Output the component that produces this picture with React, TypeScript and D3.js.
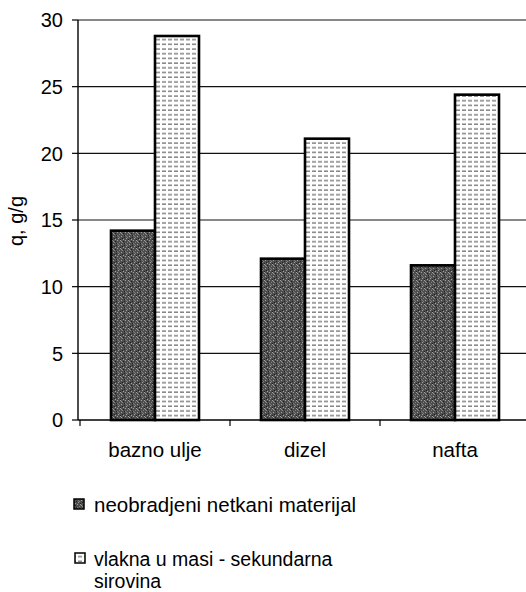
import React from "react";
import * as d3 from "d3";

const categories = ["bazno ulje", "dizel", "nafta"];
const seriesNames = ["neobradjeni netkani materijal", "vlakna u masi - sekundarna sirovina"];
const untreated = [14.2, 12.1, 11.6];
const fibers = [28.8, 21.1, 24.4];
const yTicks = [0, 5, 10, 15, 20, 25, 30];

const W = 526;
const H = 592;
const FONT = "'Liberation Sans', Arial, sans-serif";

// fixed speckle layout for the dark pattern (style only)
const speckles: [number, number][] = [
  [0, 0], [3, 1], [5, 3], [1, 4], [4, 5], [2, 2], [6, 6], [0, 7], [7, 2], [5, 0], [2, 6], [7, 5],
  [1, 1], [4, 3], [6, 4], [3, 7],
];

export default function App() {
  const x0 = d3.scaleBand<string>().domain(categories).range([80, 530]).padding(0);
  const x1 = d3.scaleBand<string>().domain(["a", "b"]).range([31, 119]).padding(0);
  const y = d3.scaleLinear().domain([0, 30]).range([420, 20]);
  const series = [
    { key: "a", values: untreated, fill: "url(#darkPat)" },
    { key: "b", values: fibers, fill: "url(#lightPat)" },
  ];
  const xAxisTicks = [80, 230, 380, 530];

  return (
    <svg
      width={W}
      height={H}
      style={{ position: "absolute", left: 0, top: 0, background: "#fff" }}
      fontFamily={FONT}
    >
      <defs>
        <pattern id="darkPat" width={8} height={8} patternUnits="userSpaceOnUse">
          <rect width={8} height={8} fill="#4e4e4e" />
          {speckles.map(([sx, sy], i) => (
            <rect key={i} x={sx} y={sy} width={1} height={1} fill={i % 3 === 0 ? "#a0a0a0" : i % 3 === 1 ? "#222" : "#808080"} />
          ))}
        </pattern>
        <pattern id="lightPat" width={6} height={4.7} patternUnits="userSpaceOnUse">
          <rect width={6} height={4.7} fill="#fff" />
          <line x1={0} x2={6} y1={2} y2={2} stroke="#444" strokeWidth={1} strokeDasharray="4 2" />
        </pattern>
      </defs>

      {/* gridlines */}
      {yTicks.filter((t) => t > 0).map((t) => (
        <line key={t} x1={78} x2={W} y1={y(t)} y2={y(t)} stroke="#111" strokeWidth={1.2} />
      ))}

      {/* bars */}
      {series.map((s) =>
        categories.map((c, i) => (
          <rect
            key={s.key + c}
            x={(x0(c) as number) + (x1(s.key) as number)}
            y={y(s.values[i])}
            width={x1.bandwidth()}
            height={y(0) - y(s.values[i])}
            fill={s.fill}
            stroke="#000"
            strokeWidth={2.6}
          />
        ))
      )}

      {/* y axis */}
      <line x1={78} x2={78} y1={y(30)} y2={y(0)} stroke="#000" strokeWidth={1.4} />
      {yTicks.map((t) => (
        <g key={t}>
          <line x1={72} x2={78} y1={y(t)} y2={y(t)} stroke="#000" strokeWidth={1.2} />
          <text x={63} y={y(t)} dy="0.36em" textAnchor="end" fontSize={20} fill="#000">
            {t}
          </text>
        </g>
      ))}
      <text
        transform={`translate(23,${221}) rotate(-90)`}
        textAnchor="middle"
        fontSize={20}
        fill="#000"
      >
        q, g/g
      </text>

      {/* x axis */}
      <line x1={78} x2={W} y1={y(0)} y2={y(0)} stroke="#000" strokeWidth={1.4} />
      {xAxisTicks.map((tx) => (
        <line key={tx} x1={tx} x2={tx} y1={y(0)} y2={y(0) + 6} stroke="#000" strokeWidth={1.2} />
      ))}
      {categories.map((c) => (
        <text
          key={c}
          x={(x0(c) as number) + x0.bandwidth() / 2}
          y={457}
          textAnchor="middle"
          fontSize={20.5}
          fill="#000"
        >
          {c}
        </text>
      ))}

      {/* legend */}
      <rect x={74} y={499} width={10} height={10} fill="url(#darkPat)" stroke="#000" strokeWidth={1.5} />
      <text x={94} y={512} fontSize={20.5} fill="#000">{seriesNames[0]}</text>
      <rect x={75} y={553} width={10} height={10} fill="url(#lightPat)" stroke="#000" strokeWidth={1.5} />
      <text x={94} y={566} fontSize={19.5} fill="#000">vlakna u masi - sekundarna</text>
      <text x={94} y={588} fontSize={19.5} fill="#000">sirovina</text>
    </svg>
  );
}
